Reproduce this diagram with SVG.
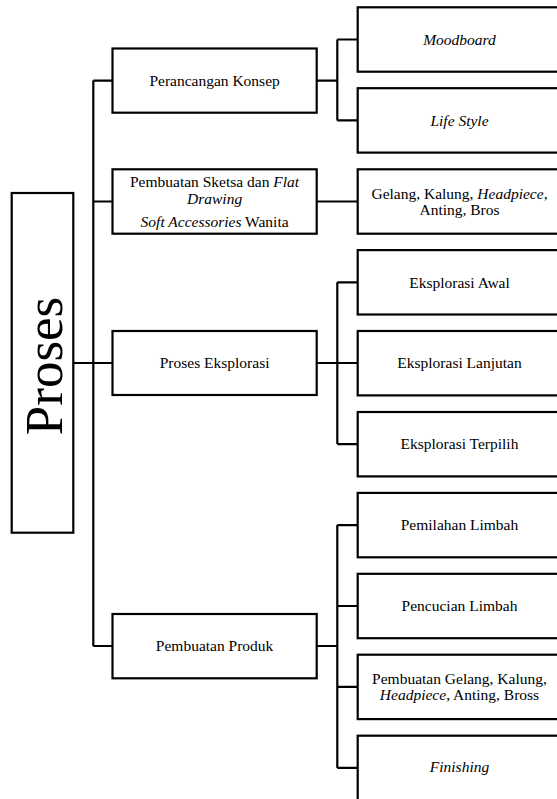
<svg xmlns="http://www.w3.org/2000/svg" width="557" height="799" viewBox="0 0 557 799">
<style>
.b{fill:#fff;stroke:#000;stroke-width:2.2}
.c{fill:none;stroke:#000;stroke-width:2.2}
text{font-family:"Liberation Serif","Times New Roman",serif;font-size:15.5px;fill:#000;text-anchor:middle}
.i{font-style:italic}
</style>
<rect width="557" height="799" fill="#fff"/>
<g id="connectors">
<path class="c" d="M73.3 363H93.3M93.3 80.6V646M93.3 80.6H112.5M93.3 201.5H112.5M93.3 363H112.5M93.3 646H112.5"/>
<path class="c" d="M316.7 80.6H337.3M337.3 39.5V120.4M337.3 39.5H357.7M337.3 120.4H357.7"/>
<path class="c" d="M316.7 201.5H357.7"/>
<path class="c" d="M316.7 363H337.3M337.3 282.3V444.1M337.3 282.3H357.7M337.3 363H357.7M337.3 444.1H357.7"/>
<path class="c" d="M316.7 646H337.3M337.3 525.1V767.9M337.3 525.1H357.7M337.3 606H357.7M337.3 686.9H357.7M337.3 767.9H357.7"/>
</g>
<g id="proses">
<rect class="b" x="11.7" y="193" width="61.6" height="339.7"/>
<text x="62" y="366" transform="rotate(-90 62 366)" style="font-size:53px;text-anchor:middle" dominant-baseline="auto"><tspan x="62" y="366" dx="0">Proses</tspan></text>
</g>
<g id="perancangan">
<rect class="b" x="112.5" y="48.5" width="204.2" height="64.2"/>
<text x="214.6" y="85.5">Perancangan Konsep</text>
</g>
<g id="sketsa">
<rect class="b" x="112.5" y="169.3" width="204.2" height="64.4"/>
<text x="214.6" y="187">Pembuatan Sketsa dan <tspan class="i">Flat</tspan></text>
<text x="214.6" y="204" class="i">Drawing</text>
<text x="214.6" y="227"><tspan class="i">Soft Accessories</tspan> Wanita</text>
</g>
<g id="eksplorasi">
<rect class="b" x="112.5" y="331" width="204.2" height="64"/>
<text x="214.6" y="368">Proses Eksplorasi</text>
</g>
<g id="produk">
<rect class="b" x="112.5" y="614" width="204.2" height="64.3"/>
<text x="214.6" y="651">Pembuatan Produk</text>
</g>
<g id="moodboard">
<rect class="b" x="357.7" y="7.3" width="204" height="64.4"/>
<text x="459.5" y="45" class="i">Moodboard</text>
</g>
<g id="lifestyle">
<rect class="b" x="357.7" y="88.2" width="204" height="64.4"/>
<text x="459.5" y="126" class="i">Life Style</text>
</g>
<g id="gelang">
<rect class="b" x="357.7" y="169.3" width="204" height="64.4"/>
<text x="459.5" y="199">Gelang, Kalung, <tspan class="i">Headpiece</tspan>,</text>
<text x="459.5" y="215">Anting, Bros</text>
</g>
<g id="awal">
<rect class="b" x="357.7" y="250.1" width="204" height="64.4"/>
<text x="459.5" y="288">Eksplorasi Awal</text>
</g>
<g id="lanjutan">
<rect class="b" x="357.7" y="331" width="204" height="64.4"/>
<text x="459.5" y="368">Eksplorasi Lanjutan</text>
</g>
<g id="terpilih">
<rect class="b" x="357.7" y="412" width="204" height="64.4"/>
<text x="459.5" y="449">Eksplorasi Terpilih</text>
</g>
<g id="pemilahan">
<rect class="b" x="357.7" y="492.9" width="204" height="64.4"/>
<text x="459.5" y="530">Pemilahan Limbah</text>
</g>
<g id="pencucian">
<rect class="b" x="357.7" y="573.8" width="204" height="64.4"/>
<text x="459.5" y="611">Pencucian Limbah</text>
</g>
<g id="pembuatangelang">
<rect class="b" x="357.7" y="654.7" width="204" height="64.4"/>
<text x="459.5" y="684">Pembuatan Gelang, Kalung,</text>
<text x="459.5" y="700"><tspan class="i">Headpiece</tspan>, Anting, Bross</text>
</g>
<g id="finishing">
<rect class="b" x="357.7" y="735.7" width="204" height="66"/>
<text x="459.5" y="772" class="i">Finishing</text>
</g>
</svg>
